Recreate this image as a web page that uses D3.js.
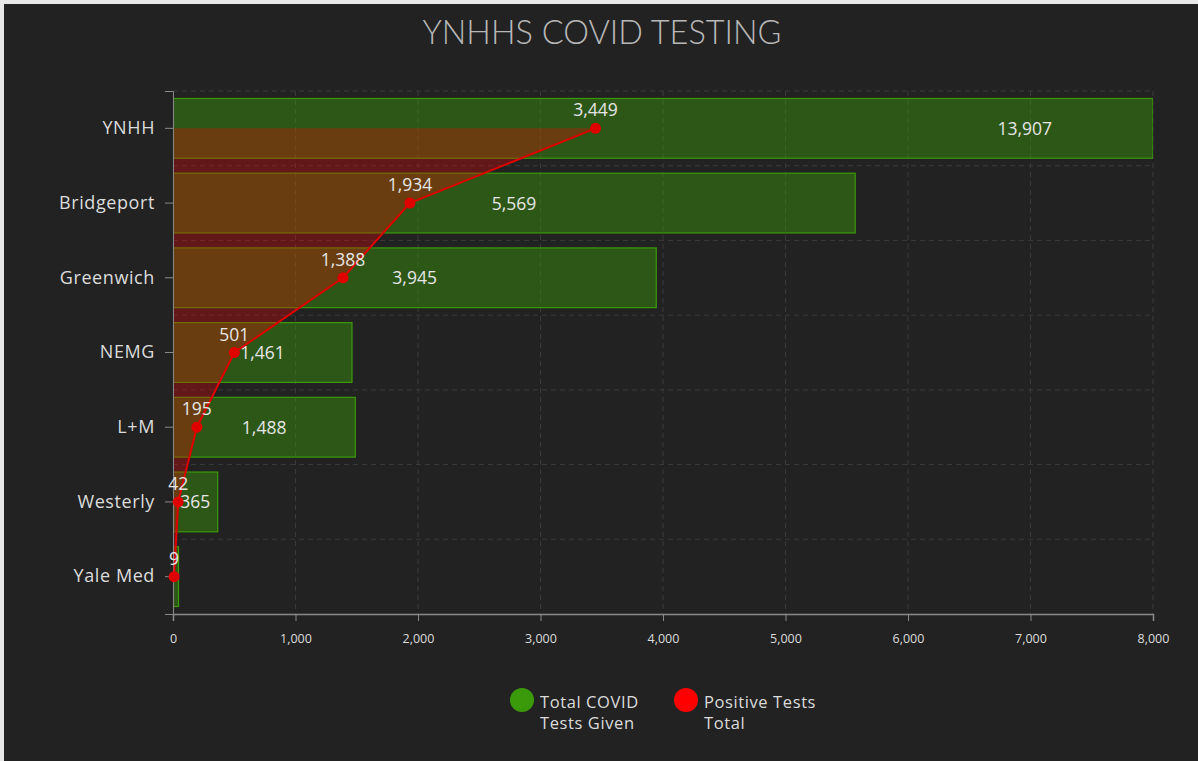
<!DOCTYPE html>
<html>
<head>
<meta charset="utf-8">
<script src="https://cdn.jsdelivr.net/npm/d3@7"></script>
<style>
  html, body { margin: 0; padding: 0; background: #e8e8e8; }
  svg { display: block; }
</style>
</head>
<body>
<svg id="chart" width="1198" height="761"></svg>
<script>
const categories = ["YNHH", "Bridgeport", "Greenwich", "NEMG", "L+M", "Westerly", "Yale Med"];
const totalTests = [13907, 5569, 3945, 1461, 1488, 365, 45];
const positiveTests = [3449, 1934, 1388, 501, 195, 42, 9];
const xTicks = [0, 1000, 2000, 3000, 4000, 5000, 6000, 7000, 8000];
const legendItems = [
  { lines: ["Total COVID", "Tests Given"], color: "#3b9a0a" },
  { lines: ["Positive Tests", "Total"], color: "#ff0000" }
];
const titleText = "YNHHS COVID TESTING";

const W = 1198, H = 761;
const margin = { left: 173, right: 45, top: 91, bottom: 147 };
const svg = d3.select("#chart");
const font = "'Open Sans', sans-serif";
const fmt = d3.format(",");

svg.append("rect").attr("x", 4).attr("y", 4).attr("width", W - 4).attr("height", H - 4).attr("fill", "#222222");

svg.append("text").attr("x", 602).attr("y", 44).attr("text-anchor", "middle")
  .attr("font-family", "Lato, sans-serif").attr("font-weight", 300).attr("font-size", 32.5)
  .attr("fill", "#b8b8b8").text(titleText);

const x = d3.scaleLinear().domain([0, 8000]).range([margin.left, W - margin.right]);
const y = d3.scaleBand().domain(categories).range([margin.top, H - margin.bottom]).paddingInner(0.2).paddingOuter(0.1);
const yc = c => y(c) + y.bandwidth() / 2;

// gridlines
const grid = svg.append("g");
grid.selectAll("line.v").data(xTicks.slice(1)).join("line")
  .attr("x1", d => x(d)).attr("x2", d => x(d))
  .attr("y1", margin.top).attr("y2", H - margin.bottom)
  .attr("stroke", "#3a3a3a").attr("stroke-dasharray", "5,4");
const bounds = d3.range(categories.length).map(i => margin.top + i * (H - margin.top - margin.bottom) / categories.length);
grid.selectAll("line.h").data(bounds).join("line")
  .attr("x1", margin.left).attr("x2", W - margin.right)
  .attr("y1", d => d).attr("y2", d => d)
  .attr("stroke", "#3a3a3a").attr("stroke-dasharray", "5,4");

svg.append("clipPath").attr("id", "plotclip").append("rect")
  .attr("x", margin.left).attr("y", margin.top - 5)
  .attr("width", W - margin.right - margin.left).attr("height", H - margin.top - margin.bottom + 10);

const data = categories.map((c, i) => ({ c, total: totalTests[i], pos: positiveTests[i] }));

const plot = svg.append("g").attr("clip-path", "url(#plotclip)");
plot.selectAll("rect.bar").data(data).join("rect")
  .attr("x", x(0)).attr("y", d => y(d.c))
  .attr("width", d => Math.min(x(d.total), x(8000)) - x(0))
  .attr("height", y.bandwidth())
  .attr("fill", "rgba(59,154,10,0.45)")
  .attr("stroke", "#3b9a0a").attr("stroke-width", 1.2);

const area = d3.area().y(d => yc(d.c)).x0(x(0)).x1(d => x(d.pos));
plot.append("path").datum(data).attr("d", area).attr("fill", "rgba(255,0,0,0.29)");

// y axis
const yAxis = svg.append("g").attr("transform", `translate(${margin.left},0)`)
  .call(d3.axisLeft(y).tickSize(8).tickPadding(10));
yAxis.select(".domain").attr("stroke", "#8a8a8a");
yAxis.selectAll(".tick line").attr("stroke", "#8a8a8a");
yAxis.selectAll(".tick text").attr("font-family", font).attr("font-size", 18)
  .attr("letter-spacing", 0.6).attr("fill", "#dcdcdc");

// x axis
const xAxis = svg.append("g").attr("transform", `translate(0,${H - margin.bottom})`)
  .call(d3.axisBottom(x).tickValues(xTicks).tickFormat(fmt).tickSize(7).tickPadding(13));
xAxis.select(".domain").attr("stroke", "#8a8a8a").attr("stroke-width", 1.5);
xAxis.selectAll(".tick line").attr("stroke", "#8a8a8a");
xAxis.selectAll(".tick text").attr("font-family", font).attr("font-size", 12.5).attr("fill", "#dcdcdc");

// total labels
svg.append("g").selectAll("text.tot").data(data.filter(d => x(d.total) - x(0) > 20)).join("text")
  .attr("x", d => x(d.total / 2)).attr("y", d => yc(d.c) + 6.5)
  .attr("text-anchor", "middle").attr("font-family", font).attr("font-size", 17.5)
  .attr("fill", "#e6e6e6").text(d => fmt(d.total));

// line + points
const line = d3.line().x(d => x(d.pos)).y(d => yc(d.c));
svg.append("path").datum(data).attr("d", line).attr("fill", "none")
  .attr("stroke", "#e00000").attr("stroke-width", 2);
svg.selectAll("circle.pt").data(data).join("circle")
  .attr("cx", d => x(d.pos)).attr("cy", d => yc(d.c)).attr("r", 5.5).attr("fill", "#e00000");
svg.selectAll("text.pos").data(data).join("text")
  .attr("x", d => x(d.pos)).attr("y", d => yc(d.c) - 12)
  .attr("text-anchor", "middle").attr("font-family", font).attr("font-size", 17.5)
  .attr("fill", "#e6e6e6").text(d => fmt(d.pos));

// legend
const legX = [522, 686];
const leg = svg.append("g");
legendItems.forEach((item, i) => {
  const g = leg.append("g");
  g.append("circle").attr("cx", legX[i]).attr("cy", 700).attr("r", 12).attr("fill", item.color);
  item.lines.forEach((ln, j) => {
    g.append("text").attr("x", legX[i] + 18).attr("y", 707.5 + j * 21.5)
      .attr("font-family", font).attr("font-size", 16.5).attr("letter-spacing", 0.6)
      .attr("fill", "#dcdcdc").text(ln);
  });
});
</script>
</body>
</html>
